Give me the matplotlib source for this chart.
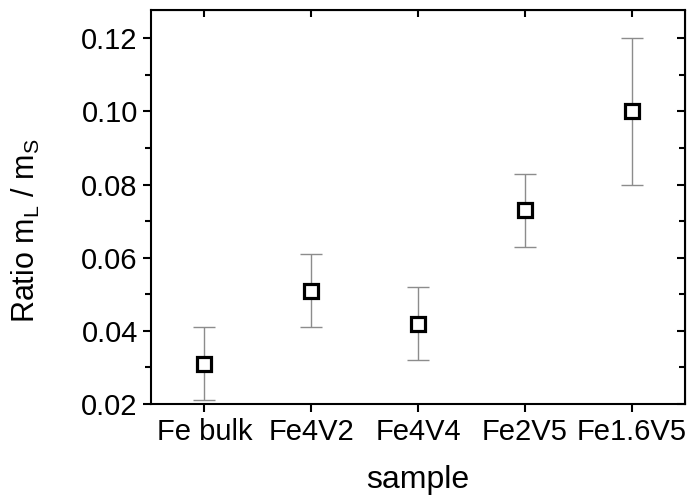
import matplotlib
matplotlib.use('Agg')
import matplotlib.pyplot as plt
from matplotlib.ticker import MultipleLocator

samples = ['Fe bulk', 'Fe4V2', 'Fe4V4', 'Fe2V5', 'Fe1.6V5']
ratio = [0.031, 0.051, 0.042, 0.073, 0.100]
ratio_err = [0.010, 0.010, 0.010, 0.010, 0.020]

plt.rcParams['font.family'] = ['Liberation Sans', 'DejaVu Sans']
plt.rcParams['mathtext.default'] = 'regular'

fig = plt.figure(figsize=(6.91, 4.97), dpi=100)
ax = fig.add_axes([0.2185, 0.1871, 0.9913 - 0.2185, 0.9799 - 0.1871])

x = list(range(1, len(samples) + 1))
ax.errorbar(x, ratio, yerr=ratio_err, fmt='none', ecolor='#8c8c8c',
            elinewidth=1, capsize=8, capthick=1, zorder=2)
ax.plot(x, ratio, 's', markersize=10.7, markerfacecolor='white',
        markeredgecolor='black', markeredgewidth=2.3, zorder=3)

ax.set_xlim(0.5, 5.5)
ax.set_ylim(0.02, 0.1277)
ax.set_xticks(x)
ax.set_xticklabels(samples)
ax.yaxis.set_major_locator(MultipleLocator(0.02))
ax.yaxis.set_minor_locator(MultipleLocator(0.01))
ax.yaxis.set_major_formatter(plt.FormatStrFormatter('%.2f'))

for s in ax.spines.values():
    s.set_linewidth(1.5)

ax.tick_params(axis='both', which='major', labelsize=21, width=1.5, length=6, direction='out')
ax.tick_params(axis='y', which='minor', width=1.5, length=4, direction='out')
ax.tick_params(axis='x', which='major', pad=4)

# mirrored inward ticks on top and right
sec_top = ax.secondary_xaxis('top')
sec_top.set_xticks(x)
sec_top.tick_params(direction='in', length=5, width=1.5, labeltop=False)
sec_right = ax.secondary_yaxis('right')
sec_right.yaxis.set_major_locator(MultipleLocator(0.02))
sec_right.yaxis.set_minor_locator(MultipleLocator(0.01))
sec_right.tick_params(which='major', direction='in', length=6, width=1.5, labelright=False)
sec_right.tick_params(which='minor', direction='in', length=4, width=1.5)

ax.set_xlabel('sample', fontsize=23, labelpad=14)
ax.set_ylabel('Ratio m$_L$ / m$_S$', fontsize=22)
ax.yaxis.set_label_coords(-0.205, 0.44)

fig.savefig('out.png', dpi=100)
